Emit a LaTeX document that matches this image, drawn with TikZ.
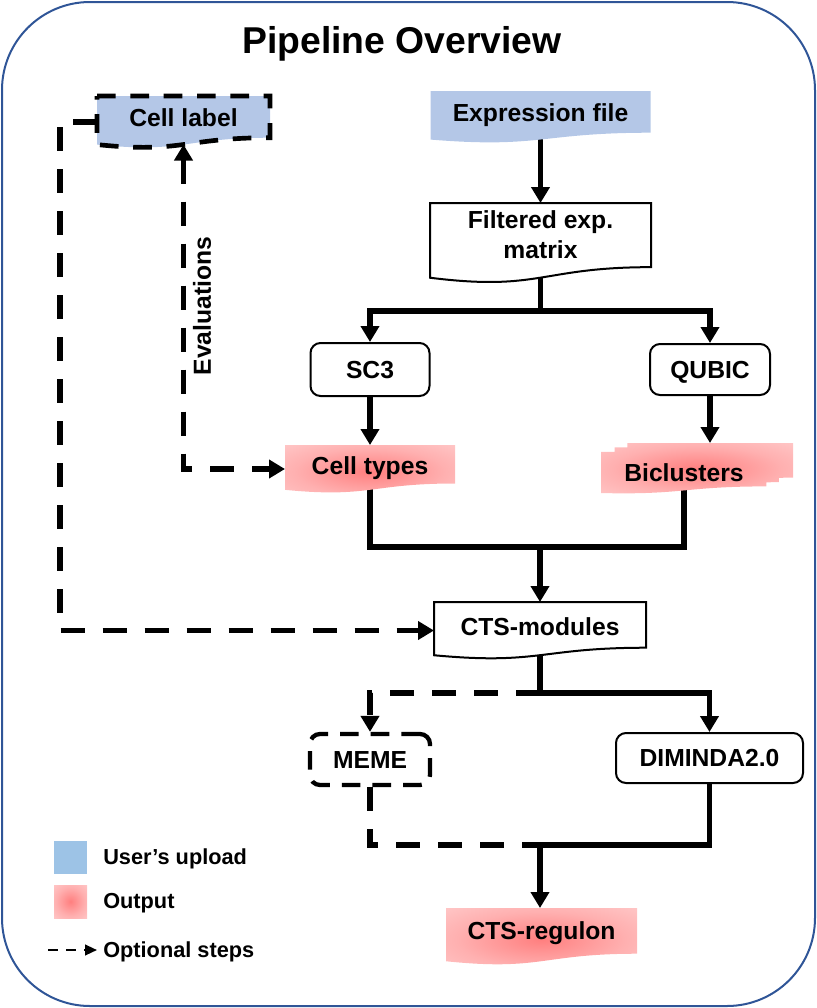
\documentclass[tikz,border=0pt]{standalone}
\usepackage{fontspec}
\setmainfont{Liberation Sans}
\usetikzlibrary{arrows.meta,calc}
\definecolor{bordc}{HTML}{2F5597}
\definecolor{upblue}{HTML}{B4C7E7}
\definecolor{legblue}{HTML}{9DC3E6}
\definecolor{rcin}{HTML}{FF7F7F}
\definecolor{rcmid}{HTML}{FFB0B0}
\definecolor{rcout}{HTML}{FFDCDC}
\pgfdeclareradialshading{redglow}{\pgfpoint{0bp}{0bp}}{color(0bp)=(rcin); color(22bp)=(rcmid); color(50bp)=(rcout)}
\pgfdeclarelayer{bg}
\pgfdeclarelayer{shp}
\pgfsetlayers{bg,shp,main}
\newcommand\docpath[1]{(#1.north west) -- (#1.north east) -- ($(#1.north east)!0.802!(#1.south east)$) .. controls ($(#1.north)!0.802!(#1.south)$) and ($(#1.north)!1.1075!(#1.south)$) .. ($(#1.north west)!0.934!(#1.south west)$) -- cycle}
\begin{document}
\begin{tikzpicture}[x=0.75pt,y=-0.75pt,line join=miter,
  txt/.style={font=\bfseries\fontsize{18.5}{22.5}\selectfont,inner sep=0pt,text height=13.25pt,text depth=0pt},
  docn/.style={inner sep=0pt,outer sep=0pt},
  rbox/.style={draw,line width=1.5pt,rounded corners=7.5pt,fill=white,inner sep=0pt,font=\bfseries\fontsize{18.5}{22.5}\selectfont,text height=13.25pt,text depth=0pt},
  conn/.style={line width=4pt},
  arrowend/.style={-{Triangle[width=13.5pt,length=12pt]}},
  dconn/.style={conn,dash pattern=on 18pt off 13.5pt},
  legt/.style={font=\bfseries\fontsize{16.3}{20}\selectfont,inner sep=0pt,text height=11.7pt,text depth=0pt,anchor=west},
  legsq/.style={inner sep=0pt,minimum size=24.75pt}
]
\useasboundingbox (0,0) rectangle (817,1008);
\draw[bordc,line width=1.5pt,rounded corners=66pt] (2,2) rectangle (815,1006);
\node[font=\bfseries\fontsize{28}{34}\selectfont,inner sep=0pt,text height=20pt,text depth=0pt] (title) at (402,40) {Pipeline Overview};

% nodes
\node[docn,minimum width=165pt,minimum height=39pt] (expr) at (540.5,117) {};
\node[txt] (exprT) at (540.5,113) {Expression file};
\node[docn,minimum width=165.75pt,minimum height=60pt] (filt) at (540.5,243) {};
\node[font=\bfseries\fontsize{18.5}{22.5}\selectfont,inner sep=0pt,align=center] (filtT) at (540.5,235) {Filtered exp.\\matrix};
\node[rbox,minimum width=89.25pt,minimum height=39.75pt] (sc3) at (370,369.5) {SC3};
\node[rbox,minimum width=90pt,minimum height=38.25pt] (qubic) at (710,369.5) {QUBIC};
\node[docn,minimum width=127.5pt,minimum height=36pt] (ctypes) at (370,469) {};
\node[txt] (ctypesT) at (370,466) {Cell types};
\node[docn,minimum width=144pt,minimum height=39pt] (bic) at (697,469) {};
\node[txt] (bicT) at (684,473) {Biclusters};
\coordinate (bicf) at (684,470);
\node[docn,minimum width=159pt,minimum height=42.75pt] (cts) at (540,630.5) {};
\node[txt] (ctsT) at (540,627) {CTS-modules};
\node[rbox,dash pattern=on 14pt off 9pt,line width=3.2pt,minimum width=90pt,minimum height=38.25pt] (meme) at (370,759.5) {MEME};
\node[rbox,minimum width=140.25pt,minimum height=37.5pt] (dim) at (709.5,758) {DIMINDA2.0};
\node[docn,minimum width=143.25pt,minimum height=42.75pt] (reg) at (541.5,936.5) {};
\node[txt] (regT) at (541.5,931) {CTS-regulon};
\node[docn,minimum width=129.75pt,minimum height=39pt] (cell) at (183.5,122) {};
\node[txt] (cellT) at (183.5,118) {Cell label};
\node[txt,rotate=90] (evl) at (202,306) {Evaluations};

% legend
\node[legsq,fill=legblue] (lgU) at (70.5,857.5) {};
\node[legsq,shading=redglow] (lgO) at (70.5,901.5) {};
\node[legt] (lgUT) at (103,857) {User’s upload};
\node[legt] (lgOT) at (103,901) {Output};
\node[legt] (lgDT) at (103,950) {Optional steps};
\coordinate (lgA) at (48,950);
\coordinate (lgB) at (97,950);
\draw[line width=1.6pt,dash pattern=on 7.5pt off 6pt,-{Triangle[width=8pt,length=9pt]}] (lgA) -- (lgB);

% shapes
\begin{pgfonlayer}{shp}
\path[fill=upblue] \docpath{expr};
\path[fill=white,draw=black,line width=1.5pt] \docpath{filt};
\shade[shading=redglow] \docpath{ctypes};
\begin{scope}[shift={(bic.north west)}]
\shade[shading=redglow]
  (0,8.85) -- (165.3,8.85) -- (165.3,43.4) .. controls (82.65,43.4) and (82.65,52) .. (0,50.03) -- cycle
  (13.62,8.85) -- (13.62,4.37) -- (177.8,4.37) -- (177.8,39.13) .. controls (171.5,39.13) and (165.3,39.37) .. (165.3,39.37) -- (165.3,8.85) -- cycle
  (26.4,4.37) -- (26.4,0) -- (192,0) -- (192,34.65) .. controls (184.9,34.65) and (177.8,34.83) .. (177.8,34.83) -- (177.8,4.37) -- cycle;
\end{scope}
\path[fill=white,draw=black,line width=1.5pt] \docpath{cts};
\shade[shading=redglow] \docpath{reg};
\path[fill=upblue,draw=black,line width=3.5pt,dash pattern=on 14pt off 11pt] \docpath{cell};
\end{pgfonlayer}

% connectors
\begin{pgfonlayer}{bg}
\coordinate (s1) at (540.5,311);
\draw[conn,arrowend] (expr.center) -- (filt.north);
\draw[conn] (filt.center) -- (s1);
\draw[conn,arrowend] (s1) -| (sc3.north);
\draw[conn,arrowend] (s1) -| (qubic.north);
\draw[conn,arrowend] (sc3.south) -- (ctypes.north);
\draw[conn,arrowend] (qubic.south) -- (qubic.south |- bic.north);
\coordinate (m1) at (540,547);
\draw[conn] (ctypes.center) |- (m1) -| (bicf);
\draw[conn,arrowend] (m1) -- (cts.north);
\coordinate (s2) at (540,693);
\draw[conn,arrowend] (cts.center) -- (s2) -| (dim.north);
\draw[dconn,arrowend] (s2) -| (meme.north);
\coordinate (s3) at (540,845);
\draw[conn] (dim.south) |- (s3);
\draw[dconn] (meme.south) |- (s3);
\draw[conn,arrowend] (s3) -- (reg.north -| s3);
\coordinate (lx) at (60,400);
\draw[dconn,arrowend] (cell.west) -| (lx) |- (cts.west);
\coordinate (cellbot) at ($(cell.north)!0.933!(cell.south)$);
\coordinate (ev) at (cellbot |- ctypes.west);
\draw[dconn,{Triangle[width=13.5pt,length=12pt]}-{Triangle[width=13.5pt,length=12pt]}] (cellbot) -- (ev) -- (ctypes.west);
\end{pgfonlayer}
\end{tikzpicture}
\end{document}
